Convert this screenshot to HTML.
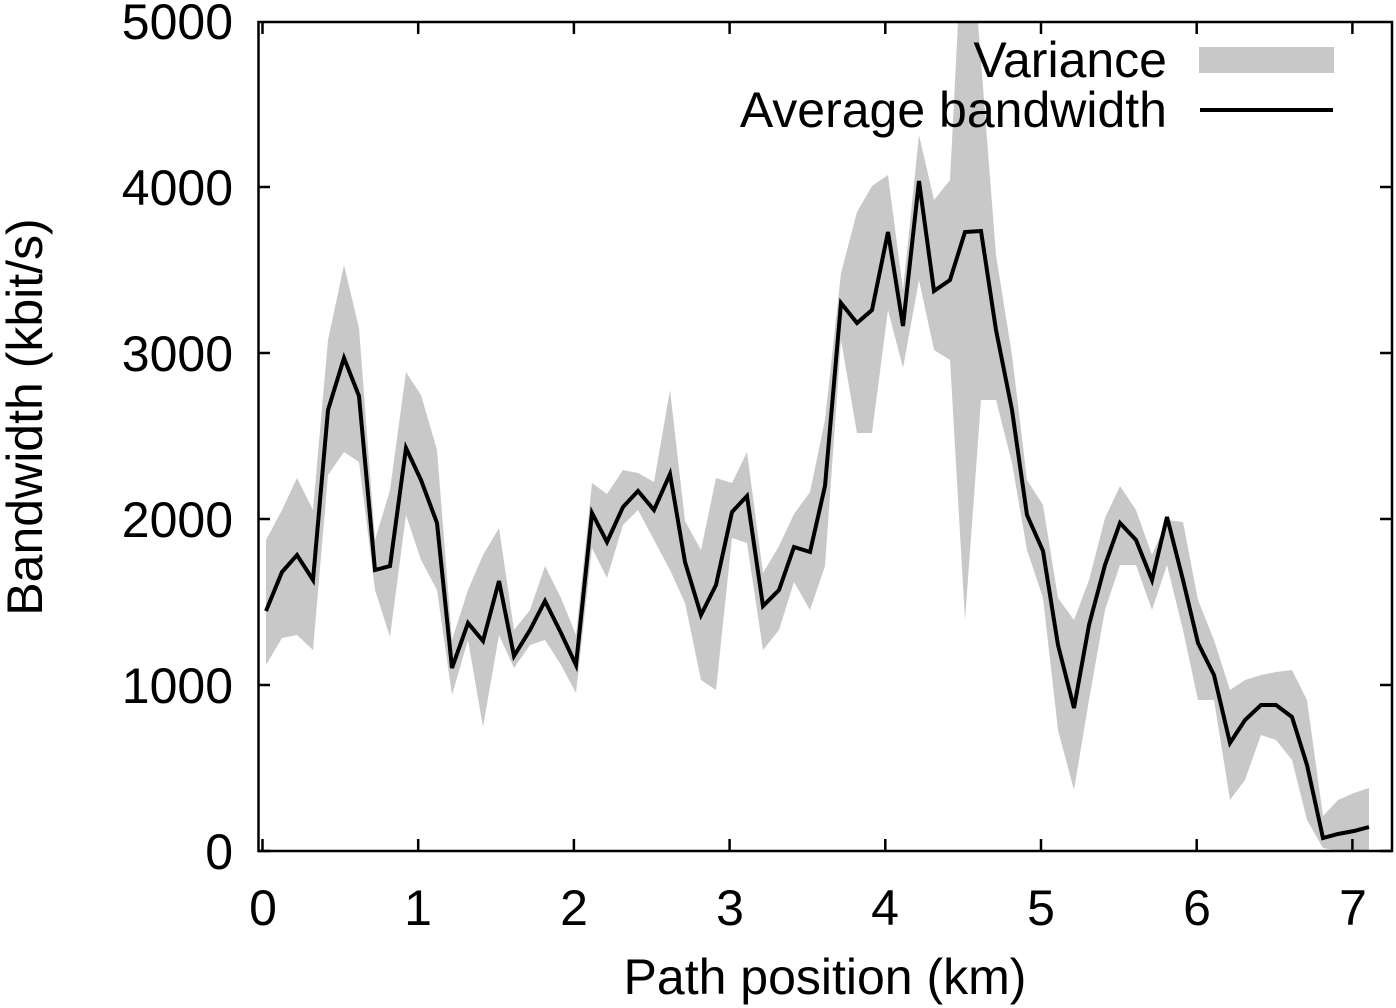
<!DOCTYPE html>
<html><head><meta charset="utf-8"><style>
html,body{margin:0;padding:0;background:#fff;}
svg{display:block;}
text{font-family:"Liberation Sans",sans-serif;fill:#000;}
</style></head><body>
<svg width="1396" height="1008" viewBox="0 0 1396 1008">
<polygon fill="#c8c8c8" points="266,540 282,510 297,478 313,510 328,340 344,265 359,328 375,540 390,490 406,372 421,395 437,450 452,640 468,590 483,555 499,528 514,630 530,610 545,566 561,598 576,635 592,483 607,494 623,470 638,473 654,482 670,390 685,521 701,550 716,478 732,483 747,452 763,573 779,546 794,514 810,492 825,420 841,273 857,212 872,186 888,175 903,290 919,135 934,200 950,180 958,22 978,22 996,255 1012,355 1027,480 1043,505 1058,598 1074,620 1089,580 1105,518 1120,486 1136,510 1152,555 1167,520 1183,522 1198,600 1214,640 1230,690 1245,680 1261,675 1276,672 1292,670 1307,700 1323,816 1338,800 1354,793 1369,788 1369,851 1354,851 1338,851 1323,848 1307,820 1292,760 1276,740 1261,735 1245,780 1230,800 1214,700 1198,700 1183,630 1167,565 1152,610 1136,565 1120,565 1105,610 1089,700 1074,790 1058,730 1043,598 1027,550 1012,463 996,400 981,400 965,620 950,360 934,350 919,280 903,368 888,310 872,433 857,433 841,340 825,566 810,610 794,582 779,630 763,650 747,543 732,538 716,690 701,680 685,603 670,570 654,540 638,510 623,525 607,578 592,548 576,693 561,665 545,640 530,645 514,668 499,635 483,727 468,640 452,695 437,590 421,560 406,515 390,637 375,590 359,462 344,452 328,475 313,650 297,635 282,638 266,665"/>
<polyline fill="none" stroke="#000" stroke-width="4" stroke-linejoin="miter" points="266,611 282,572 297,555 313,580 328,410 344,358 359,396 375,570 390,566 406,448 421,480 437,523 452,668 468,623 483,641 499,581 514,656 530,630 545,601 561,633 576,665 592,513 607,542 623,507 638,491 654,510 670,474 685,562 701,615 716,585 732,512 747,496 763,606 779,590 794,547 810,552 825,486 841,303 857,323 872,310 888,232 903,326 919,181 934,291 950,280 965,232 981,231 996,330 1012,410 1027,515 1043,551 1058,645 1074,708 1089,625 1105,565 1120,523 1136,540 1152,580 1167,517 1183,580 1198,643 1214,675 1230,743 1245,720 1261,705 1276,705 1292,717 1307,765 1323,838 1338,834 1354,831 1369,827"/>
<g stroke="#000" stroke-width="2.5" fill="none">
<rect x="258.5" y="22" width="1133.5" height="829"/>
<path d="M258 851h12M1392 851h-12M258 685h12M1392 685h-12M258 519h12M1392 519h-12M258 353h12M1392 353h-12M258 187h12M1392 187h-12
M262.5 851v-12M262.5 22v12M418.2 851v-12M418.2 22v12M573.9 851v-12M573.9 22v12M729.6 851v-12M729.6 22v12M885.3 851v-12M885.3 22v12M1041 851v-12M1041 22v12M1196.7 851v-12M1196.7 22v12M1352.4 851v-12M1352.4 22v12"/>
</g>
<g font-size="50" text-anchor="end">
<text x="233" y="869">0</text><text x="233" y="703">1000</text><text x="233" y="537">2000</text><text x="233" y="371">3000</text><text x="233" y="205">4000</text><text x="233" y="39">5000</text>
</g>
<g font-size="50" text-anchor="middle">
<text x="263" y="925">0</text><text x="418" y="925">1</text><text x="574" y="925">2</text><text x="730" y="925">3</text><text x="885" y="925">4</text><text x="1041" y="925">5</text><text x="1197" y="925">6</text><text x="1353" y="925">7</text>
<text x="825" y="994">Path position (km)</text>
<text transform="translate(42,417) rotate(-90)">Bandwidth (kbit/s)</text>
</g>
<g font-size="50" text-anchor="end">
<text x="1167" y="77">Variance</text>
<text x="1167" y="127">Average bandwidth</text>
</g>
<rect x="1199" y="47" width="135" height="26" fill="#c8c8c8"/>
<line x1="1200" y1="110" x2="1333" y2="110" stroke="#000" stroke-width="4"/>
</svg>
</body></html>
